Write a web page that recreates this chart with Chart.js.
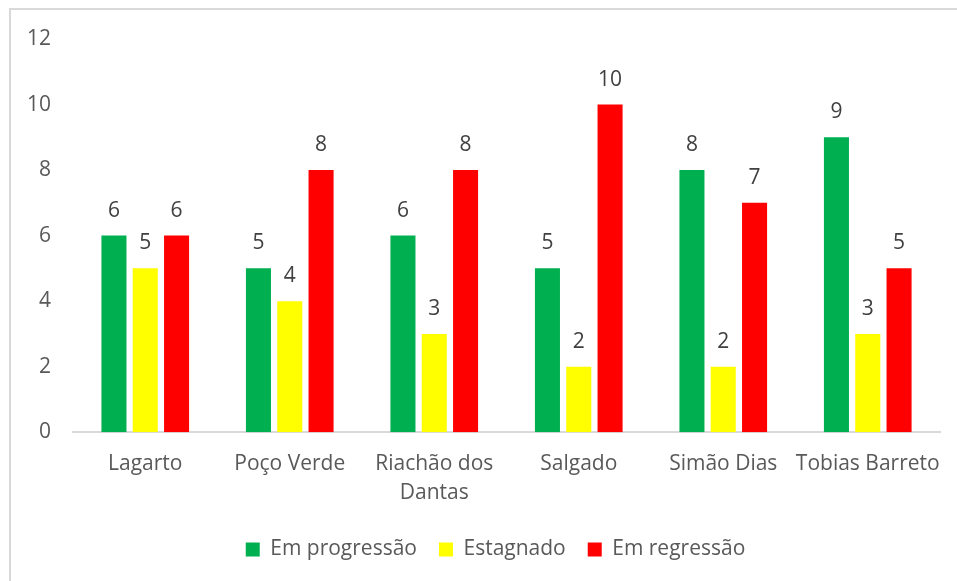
<!DOCTYPE html>
<html>
<head>
<meta charset="utf-8">
<script src="https://cdn.jsdelivr.net/npm/chart.js@4"></script>
<style>
  html, body { margin: 0; padding: 0; background: #fff; overflow: hidden; }
  #frame { position: absolute; left: 9px; top: 8px; width: 1000px; height: 700px; border: 2px solid #d9d9d9; box-sizing: border-box; }
  #wrap { position: absolute; left: 0; top: 0; width: 957px; height: 581px; }
</style>
</head>
<body>
<div id="frame"></div>
<div id="wrap"><canvas id="chart"></canvas></div>
<script>
// Municípios e situação
const categories = ['Lagarto', 'Poço Verde', ['Riachão dos', 'Dantas'], 'Salgado', 'Simão Dias', 'Tobias Barreto'];
const progressao = [6, 5, 6, 5, 8, 9];
const estagnado = [5, 4, 3, 2, 2, 3];
const regressao = [6, 8, 8, 10, 7, 5];
const yTicks = [0, 2, 4, 6, 8, 10, 12];

const fontFamily = "'Open Sans', sans-serif";

// draws the value above each bar
const valueLabels = {
    id: 'valueLabels',
    afterDatasetsDraw(chart) {
        const ctx = chart.ctx;
        ctx.save();
        ctx.font = '21px ' + fontFamily;
        ctx.fillStyle = '#404040';
        ctx.textAlign = 'center';
        ctx.textBaseline = 'middle';
        chart.data.datasets.forEach((ds, i) => {
            chart.getDatasetMeta(i).data.forEach((bar, j) => {
                ctx.fillText(ds.data[j], bar.x, bar.y - 25);
            });
        });
        ctx.restore();
    }
};

// nudge the legend a bit to the right, like the original
const legendShift = {
    id: 'legendShift',
    afterLayout(chart) {
        chart.legend.left += 19;
        chart.legend.right += 19;
    }
};

const ctx = document.getElementById('chart').getContext('2d');
new Chart(ctx, {
    type: 'bar',
    data: {
        labels: categories,
        datasets: [
            { label: 'Em progressão', data: progressao, backgroundColor: '#00b050' },
            { label: 'Estagnado', data: estagnado, backgroundColor: '#ffff00' },
            { label: 'Em regressão', data: regressao, backgroundColor: '#ff0000' }
        ]
    },
    options: {
        responsive: true,
        maintainAspectRatio: false,
        animation: false,
        categoryPercentage: 0.65,
        barPercentage: 0.8,
        layout: { padding: { left: 13, right: 17, top: 39, bottom: 11 } },
        plugins: {
            tooltip: { enabled: false },
            legend: {
                position: 'bottom',
                labels: {
                    font: { size: 21, family: fontFamily },
                    color: '#595959',
                    boxWidth: 14,
                    boxHeight: 14,
                    padding: 22
                }
            }
        },
        scales: {
            x: {
                grid: { display: false },
                border: { color: '#d9d9d9', width: 2 },
                ticks: {
                    font: { size: 21, family: fontFamily, lineHeight: 1.4 },
                    color: '#595959',
                    maxRotation: 0,
                    autoSkip: false,
                    padding: 9
                }
            },
            y: {
                min: 0,
                max: 12,
                afterBuildTicks: axis => { axis.ticks = yTicks.map(v => ({ value: v })); },
                grid: { display: false },
                border: { display: false },
                ticks: {
                    font: { size: 21, family: fontFamily },
                    color: '#595959',
                    padding: 14
                }
            }
        }
    },
    plugins: [valueLabels, legendShift]
});
</script>
</body>
</html>
